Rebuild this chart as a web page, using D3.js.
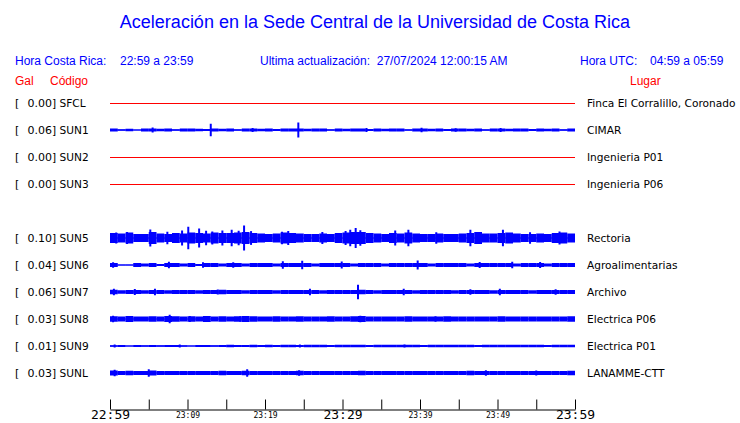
<!DOCTYPE html>
<html><head><meta charset="utf-8">
<script src="https://cdn.jsdelivr.net/npm/d3@7"></script>
<style>html,body{margin:0;padding:0;background:#fff;}svg{display:block;}</style>
</head><body>
<script>
// ---- data ----
const title = "Aceleración en la Sede Central de la Universidad de Costa Rica";
const horaCR = "22:59 a 23:59";
const horaUTC = "04:59 a 05:59";
const actualizacion = "27/07/2024 12:00:15 AM";

const codes  = ["SFCL","SUN1","SUN2","SUN3","SUN5","SUN6","SUN7","SUN8","SUN9","SUNL"];
const peaks  = ["0.00","0.06","0.00","0.00","0.10","0.04","0.06","0.03","0.01","0.03"];
const places = ["Finca El Corralillo, Coronado","CIMAR","Ingenieria P01","Ingenieria P06","Rectoria","Agroalimentarias","Archivo","Electrica P06","Electrica P01","LANAMME-CTT"];
const slots  = [0,1,2,3,5,6,7,8,9,10];

const tickMinutes = [0,5,10,15,20,25,30,35,40,45,50,55,60];
const tickLabels  = ["22:59","","23:09","","23:19","","23:29","","23:39","","23:49","","23:59"];
const bigTicks    = ["22:59","23:29","23:59"];

// per-minute envelope (half amplitude, Gal) and isolated peaks [minute, Gal]
const sun1Base = [0.012,0.006,0.010,0.004,0.012,0.012,0.010,0.012,0.006,0.012,0.012,0.010,0.008,0.012,0.010,0.012,0.006,0.012,0.012,0.010,0.012,0.008,0.012,0.012,0.012,0.010,0.012,0.012,0.006,0.012,0.010,0.012,0.012,0.008,0.012,0.010,0.012,0.012,0.006,0.012,0.012,0.010,0.012,0.008,0.012,0.012,0.010,0.012,0.006,0.012,0.012,0.010,0.012,0.012,0.008,0.012,0.010,0.012,0.006,0.012];
const sun1Peaks = [[13.0,0.05],[24.3,0.06],[5.5,0.02],[18.4,0.016],[33.1,0.016],[40.2,0.018],[50.4,0.016],[44.6,0.014]];
const sun5Base = [0.040,0.036,0.044,0.032,0.032,0.048,0.036,0.032,0.040,0.036,0.044,0.040,0.036,0.044,0.040,0.040,0.044,0.048,0.040,0.036,0.032,0.036,0.044,0.040,0.036,0.032,0.032,0.036,0.032,0.040,0.044,0.048,0.048,0.040,0.036,0.032,0.040,0.036,0.044,0.036,0.032,0.032,0.036,0.032,0.032,0.036,0.040,0.048,0.036,0.036,0.040,0.044,0.036,0.032,0.032,0.036,0.032,0.040,0.044,0.036];
const sun5Peaks = [[0.8,0.044],[2.2,0.048],[5.2,0.068],[7.4,0.05],[9.3,0.06],[10.1,0.09],[11.5,0.076],[12.4,0.058],[13.2,0.052],[14.5,0.06],[15.7,0.066],[16.6,0.058],[17.3,0.1],[18.2,0.055],[22.2,0.05],[23.0,0.056],[27.4,0.048],[30.4,0.056],[31.0,0.066],[31.7,0.08],[32.3,0.062],[36.8,0.06],[38.5,0.066],[42.1,0.046],[46.5,0.066],[50.7,0.066],[54.2,0.046],[58.0,0.052]];
const sun6Base = [0.016,0.004,0.004,0.016,0.012,0.016,0.008,0.016,0.016,0.012,0.016,0.008,0.016,0.016,0.012,0.016,0.016,0.012,0.016,0.016,0.016,0.012,0.016,0.016,0.016,0.016,0.012,0.016,0.016,0.016,0.016,0.012,0.016,0.016,0.016,0.012,0.016,0.016,0.016,0.016,0.016,0.012,0.016,0.016,0.016,0.016,0.012,0.016,0.016,0.016,0.016,0.016,0.012,0.016,0.016,0.016,0.012,0.016,0.016,0.016];
const sun6Peaks = [[0.4,0.022],[7.6,0.026],[12.0,0.022],[15.9,0.022],[22.3,0.03],[24.8,0.034],[29.9,0.028],[39.7,0.036],[47.7,0.024],[51.9,0.026],[55.5,0.024]];
const sun7Base = [0.018,0.014,0.016,0.016,0.014,0.016,0.016,0.014,0.016,0.016,0.016,0.014,0.016,0.016,0.018,0.016,0.016,0.014,0.016,0.016,0.016,0.014,0.016,0.016,0.016,0.016,0.016,0.014,0.016,0.016,0.016,0.016,0.018,0.016,0.014,0.016,0.016,0.016,0.016,0.014,0.016,0.016,0.016,0.016,0.014,0.016,0.016,0.016,0.016,0.014,0.016,0.016,0.016,0.016,0.014,0.016,0.016,0.016,0.016,0.016];
const sun7Peaks = [[0.5,0.026],[3.2,0.024],[5.8,0.026],[13.9,0.02],[25.8,0.026],[32.0,0.058],[37.9,0.026],[46.5,0.022],[50.3,0.026],[57.5,0.022]];
const sun8Base = [0.022,0.020,0.024,0.020,0.020,0.022,0.020,0.024,0.022,0.020,0.022,0.020,0.024,0.020,0.022,0.020,0.022,0.024,0.022,0.020,0.020,0.022,0.020,0.020,0.022,0.020,0.020,0.020,0.022,0.020,0.020,0.022,0.024,0.020,0.020,0.020,0.020,0.020,0.022,0.020,0.020,0.020,0.020,0.022,0.020,0.020,0.020,0.020,0.020,0.020,0.022,0.020,0.020,0.020,0.020,0.020,0.020,0.020,0.020,0.022];
const sun8Peaks = [[0.4,0.026],[7.7,0.034],[10.3,0.024],[16.8,0.022],[32.3,0.026],[42.0,0.022]];
const sun9Base = [0.006,0.008,0.004,0.008,0.006,0.008,0.006,0.008,0.008,0.006,0.004,0.008,0.008,0.006,0.008,0.010,0.008,0.008,0.010,0.008,0.010,0.008,0.010,0.010,0.008,0.010,0.010,0.010,0.008,0.010,0.010,0.010,0.010,0.008,0.010,0.010,0.010,0.010,0.010,0.010,0.008,0.010,0.010,0.010,0.010,0.010,0.010,0.008,0.010,0.010,0.010,0.010,0.010,0.010,0.010,0.010,0.008,0.010,0.010,0.010];
const sun9Peaks = [[0.6,0.012],[9.0,0.012],[24.5,0.012],[38.0,0.012]];
const sunLBase = [0.020,0.016,0.018,0.016,0.016,0.020,0.016,0.016,0.016,0.016,0.016,0.016,0.016,0.016,0.018,0.016,0.016,0.018,0.016,0.016,0.016,0.016,0.016,0.016,0.018,0.016,0.016,0.016,0.016,0.016,0.016,0.016,0.018,0.016,0.016,0.016,0.016,0.016,0.016,0.016,0.016,0.016,0.016,0.016,0.016,0.016,0.018,0.016,0.016,0.016,0.016,0.016,0.016,0.016,0.016,0.016,0.016,0.016,0.016,0.018];
const sunLPeaks = [[0.6,0.026],[5.0,0.03],[17.7,0.03],[24.4,0.022],[48.5,0.022],[55.0,0.02]];

const baseArrays = [null,sun1Base,null,null,sun5Base,sun6Base,sun7Base,sun8Base,sun9Base,sunLBase];
const peakArrays = [null,sun1Peaks,null,null,sun5Peaks,sun6Peaks,sun7Peaks,sun8Peaks,sun9Peaks,sunLPeaks];

// ---- drawing ----
const W = 740, H = 423;
const svg = d3.select("body").append("svg").attr("width", W).attr("height", H);
const blue = "#0000ff", red = "#ff0000";
const sans = "'Liberation Sans', Arial, sans-serif";
const dv = "'DejaVu Sans', sans-serif";
const mono = "'DejaVu Sans Mono', monospace";

const x = d3.scaleLinear().domain([0, 60]).range([110, 575]);
const y = d3.scaleLinear().domain([0, 10]).range([103, 373]);
const amp = d3.scaleLinear().domain([0, 0.1]).range([0, 12.5]);

svg.append("text").attr("x", 375).attr("y", 28).attr("text-anchor", "middle")
  .attr("font-family", sans).attr("font-size", 18).attr("fill", blue).text(title);

const hdr = (tx, ty, s, col, anchor) => svg.append("text").attr("x", tx).attr("y", ty)
  .attr("font-family", sans).attr("font-size", 12).attr("fill", col)
  .attr("text-anchor", anchor || "start").attr("xml:space", "preserve").text(s);
hdr(15, 65, "Hora Costa Rica:", blue);
hdr(120, 65, horaCR, blue);
hdr(260, 65, "Ultima actualización:  " + actualizacion, blue);
hdr(580, 65, "Hora UTC:", blue);
hdr(650, 65, horaUTC, blue);
hdr(15, 85, "Gal", red);
hdr(50, 85, "Código", red);
hdr(630, 85, "Lugar", red);

codes.forEach((c, i) => {
  const cy = y(slots[i]);
  const g = svg.append("g");
  g.append("text").attr("x", 15).attr("y", cy + 4).attr("font-family", dv).attr("font-size", 11).attr("fill", "#000").text("[");
  g.append("text").attr("x", 52).attr("y", cy + 4).attr("text-anchor", "end").attr("font-family", dv).attr("font-size", 11).attr("fill", "#000").text(peaks[i]);
  g.append("text").attr("x", 52).attr("y", cy + 4).attr("font-family", dv).attr("font-size", 10.6).attr("fill", "#000").text("] " + c);
  g.append("text").attr("x", 587).attr("y", cy + 4).attr("font-family", dv).attr("font-size", 10.6).attr("fill", "#000").text(places[i]);

  const base = baseArrays[i];
  if (!base) {
    g.append("line").attr("x1", x(0)).attr("x2", x(60)).attr("y1", cy + 0.5).attr("y2", cy + 0.5)
      .attr("stroke", red).attr("stroke-width", 1);
    return;
  }
  g.append("line").attr("x1", x(0)).attr("x2", x(60)).attr("y1", cy).attr("y2", cy)
    .attr("stroke", blue).attr("stroke-width", 1);
  g.selectAll("rect.b").data(base).join("rect")
    .attr("x", (d, k) => x(k)).attr("width", (d, k) => x(k + 1) - x(k))
    .attr("y", d => cy - amp(d)).attr("height", d => 2 * amp(d)).attr("fill", blue);
  g.selectAll("line.p").data(peakArrays[i]).join("line")
    .attr("x1", d => x(d[0])).attr("x2", d => x(d[0]))
    .attr("y1", d => cy - amp(d[1])).attr("y2", d => cy + amp(d[1]))
    .attr("stroke", blue).attr("stroke-width", 2);
});

// axis
const axis = d3.axisBottom(x).tickValues(tickMinutes)
  .tickFormat((d, k) => tickLabels[k]).tickSizeInner(-10).tickSizeOuter(0).tickPadding(1);
const ag = svg.append("g").attr("transform", "translate(0,409.5)").call(axis);
ag.select(".domain").attr("stroke", "#000");
ag.selectAll(".tick line").attr("stroke", "#000");
const isBig = d => bigTicks.includes(tickLabels[tickMinutes.indexOf(d)]);
ag.selectAll(".tick text").attr("fill", "#000").attr("font-family", mono)
  .attr("font-size", d => isBig(d) ? 13 : 8)
  .attr("dy", d => isBig(d) ? "0.68em" : "0.9em");
</script>
</body></html>
